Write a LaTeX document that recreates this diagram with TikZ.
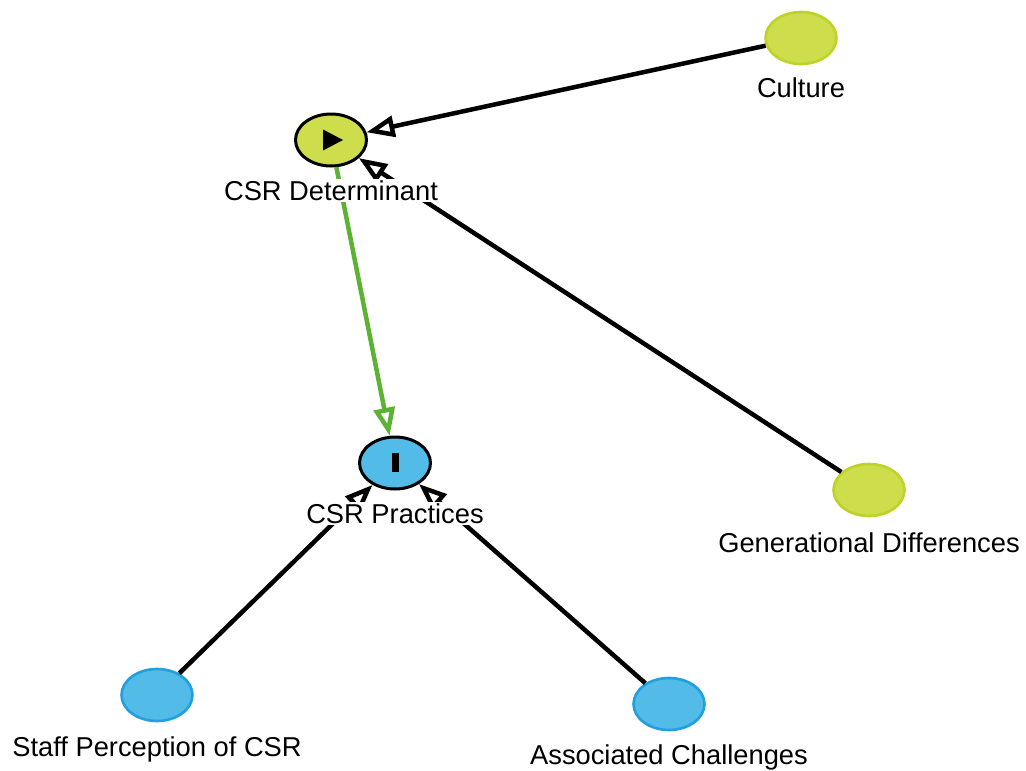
\documentclass[tikz,border=0pt]{standalone}
\usepackage{fontspec}
\setmainfont{Liberation Sans}
\usetikzlibrary{arrows.meta,shapes.geometric}
\definecolor{lime}{RGB}{206,221,76}
\definecolor{limeedge}{RGB}{190,210,40}
\definecolor{sky}{RGB}{82,187,232}
\definecolor{skyedge}{RGB}{34,160,222}
\definecolor{linkgreen}{RGB}{92,178,50}

\begin{document}
\begin{tikzpicture}[x=1pt,y=-1pt,
  concept/.style={ellipse, minimum width=71pt, minimum height=52pt, inner sep=0pt, line width=2.6pt},
  limenode/.style={concept, fill=lime, draw=limeedge},
  skynode/.style={concept, fill=sky, draw=skyedge},
  keynode/.style={concept, draw=black, line width=3pt},
  caption/.style={fill=white, inner sep=1.5pt, anchor=base, font=\fontsize{27.3}{32}\selectfont},
  link/.style={line width=4.5pt, draw=black, -{Triangle[open,length=28pt,width=21pt]}},
  glink/.style={link, draw=linkgreen},
]
\useasboundingbox (0,0) rectangle (1026,771);

% concepts
\node[limenode] (cul) at (801,38) {};
\node[keynode, fill=lime] (det) at (331,140) {};
\node[limenode] (gen) at (869,490) {};
\node[keynode, fill=sky] (prac) at (395,463) {};
\node[skynode] (staff) at (157,695) {};
\node[skynode] (assoc) at (669,704) {};

% markers inside the two key concepts
\fill[black] ([xshift=-8pt,yshift=-10.5pt]det.center) -- ([xshift=-8pt,yshift=10.5pt]det.center) -- ([xshift=12pt]det.center) -- cycle;
\fill[black] ([xshift=-3.5pt,yshift=-9pt]prac.center) rectangle ([xshift=3.5pt,yshift=10pt]prac.center);

% links
\draw[link] (cul) -- (det);
\draw[link] (gen) -- (det);
\draw[glink] (det) -- (prac);
\draw[link] (staff) -- (prac);
\draw[link] (assoc) -- (prac);

% captions
\node[caption] (culL) at (801,97) {Culture};
\node[caption] (detL) at (331,200) {CSR Determinant};
\node[caption] (genL) at (869,552) {Generational Differences};
\node[caption] (pracL) at (395,523) {CSR Practices};
\node[caption] (staffL) at (157,756) {Staff Perception of CSR};
\node[caption] (assocL) at (669,764) {Associated Challenges};
\end{tikzpicture}
\end{document}
